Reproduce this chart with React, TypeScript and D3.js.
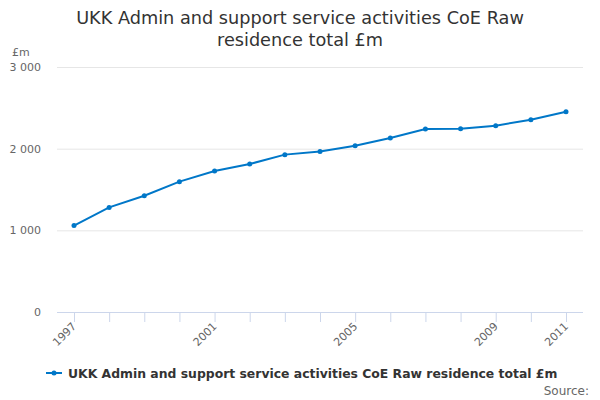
import React, { useEffect, useRef } from "react";
import * as d3 from "d3";

const years = [1997, 1998, 1999, 2000, 2001, 2002, 2003, 2004, 2005, 2006, 2007, 2008, 2009, 2010, 2011];
const values = [1059, 1281, 1424, 1596, 1726, 1812, 1927, 1964, 2037, 2130, 2241, 2245, 2281, 2355, 2453];
const yTicks = [0, 1000, 2000, 3000];
const xLabels = [1997, 2001, 2005, 2009, 2011];
const seriesName = "UKK Admin and support service activities CoE Raw residence total £m";

const W = 600;
const H = 400;

const App: React.FC = () => {
  const svgRef = useRef<SVGSVGElement | null>(null);

  useEffect(() => {
    const svg = d3.select(svgRef.current);
    svg.selectAll("*").remove();
    const font = "'DejaVu Sans', sans-serif";

    const x = d3.scaleLinear().domain([1997, 2011]).range([74, 566]);
    const y = d3.scaleLinear().domain([0, 3000]).range([312, 67]);
    const left = 57;
    const right = 583;

    // title
    const title = svg.append("text")
      .attr("x", W / 2)
      .attr("text-anchor", "middle")
      .style("font-family", font)
      .style("font-size", "17.7px")
      .attr("fill", "#333333");
    title.append("tspan").attr("x", W / 2).attr("y", 24).text("UKK Admin and support service activities CoE Raw");
    title.append("tspan").attr("x", W / 2).attr("y", 46).text("residence total £m");

    // gridlines
    svg.append("g")
      .selectAll("line")
      .data(yTicks.slice(1))
      .enter()
      .append("line")
      .attr("x1", left)
      .attr("x2", right)
      .attr("y1", (d) => y(d) + 0.5)
      .attr("y2", (d) => y(d) + 0.5)
      .attr("stroke", "#e6e6e6");

    // y labels
    svg.append("g")
      .selectAll("text")
      .data(yTicks)
      .enter()
      .append("text")
      .attr("x", 41)
      .attr("y", (d) => y(d) + 4)
      .attr("text-anchor", "end")
      .style("font-family", font)
      .style("font-size", "11px")
      .attr("fill", "#666666")
      .text((d) => d3.format(",")(d).replace(/,/g, " "));

    svg.append("text")
      .attr("x", 12)
      .attr("y", 56)
      .style("font-family", font)
      .style("font-size", "11px")
      .attr("fill", "#666666")
      .text("£m");

    // x axis
    svg.append("line")
      .attr("x1", left)
      .attr("x2", right)
      .attr("y1", 312.5)
      .attr("y2", 312.5)
      .attr("stroke", "#ccd6eb");

    svg.append("g")
      .selectAll("line")
      .data(years)
      .enter()
      .append("line")
      .attr("x1", (d) => x(d) + 0.5)
      .attr("x2", (d) => x(d) + 0.5)
      .attr("y1", 312)
      .attr("y2", 322)
      .attr("stroke", "#ccd6eb");

    svg.append("g")
      .selectAll("text")
      .data(xLabels)
      .enter()
      .append("text")
      .attr("transform", (d) => `translate(${x(d) + 3}, ${327}) rotate(-45)`)
      .attr("text-anchor", "end")
      .style("font-family", font)
      .style("font-size", "11px")
      .attr("fill", "#666666")
      .text((d) => String(d));

    // line
    const line = d3.line<number>()
      .x((d, i) => x(years[i]))
      .y((d) => y(d));

    svg.append("path")
      .datum(values)
      .attr("d", line)
      .attr("fill", "none")
      .attr("stroke", "#0077c8")
      .attr("stroke-width", 2);

    svg.append("g")
      .selectAll("circle")
      .data(values)
      .enter()
      .append("circle")
      .attr("cx", (d, i) => x(years[i]))
      .attr("cy", (d) => y(d))
      .attr("r", 2.5)
      .attr("fill", "#0077c8");

    // legend
    svg.append("line")
      .attr("x1", 46)
      .attr("x2", 62)
      .attr("y1", 373)
      .attr("y2", 373)
      .attr("stroke", "#0077c8")
      .attr("stroke-width", 2);
    svg.append("circle")
      .attr("cx", 54)
      .attr("cy", 373)
      .attr("r", 2.5)
      .attr("fill", "#0077c8");
    svg.append("text")
      .attr("x", 68)
      .attr("y", 378)
      .style("font-family", font)
      .style("font-size", "12.4px")
      .style("font-weight", "bold")
      .attr("fill", "#333333")
      .text(seriesName);

    svg.append("text")
      .attr("x", 589)
      .attr("y", 395)
      .attr("text-anchor", "end")
      .style("font-family", font)
      .style("font-size", "12px")
      .attr("fill", "#666666")
      .text("Source:");
  }, []);

  return (
    <svg
      ref={svgRef}
      width={W}
      height={H}
      style={{ position: "absolute", left: 0, top: 0, background: "#ffffff" }}
    ></svg>
  );
};

export default App;
